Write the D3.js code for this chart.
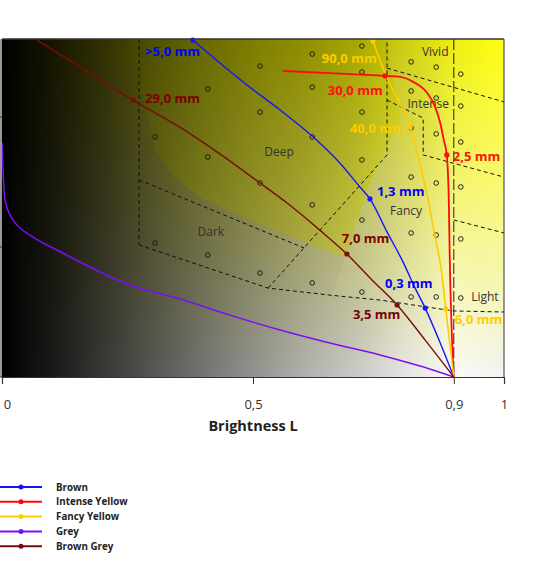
<!DOCTYPE html>
<html><head><meta charset="utf-8">
<script src="https://cdn.jsdelivr.net/npm/d3@7"></script>
<style>body{margin:0;background:#fff}text{font-family:"Open Sans",sans-serif}</style>
</head><body><svg id="c" width="548" height="580"></svg>
<script>
// ---------- data (L = brightness, C = chroma) ----------
const xTicks = [0, 0.5, 0.9, 1];
const xTickLabels = ["0", "0,5", "0,9", "1"];
const yTicks = [0, 0.5, 1.0];
const xTitle = "Brightness L";
const seriesNames = ["Brown", "Intense Yellow", "Fancy Yellow", "Grey", "Brown Grey"];

const brown = [[0.380,1.296],[0.488,1.123],[0.554,1.027],[0.620,0.923],[0.673,0.823],[0.713,0.731],[0.733,0.685],[0.767,0.558],[0.799,0.442],[0.823,0.342],[0.843,0.265],[0.873,0.131],[0.9,0]];
const intenseYellow = [[0.560,1.177],[0.653,1.169],[0.763,1.158],[0.793,1.154],[0.819,1.135],[0.847,1.092],[0.863,1.038],[0.873,0.977],[0.880,0.912],[0.886,0.854],[0.890,0.681],[0.892,0.45],[0.896,0.169],[0.9,0]];
const fancyYellow = [[0.739,1.292],[0.763,1.169],[0.789,1.065],[0.813,0.962],[0.833,0.815],[0.849,0.681],[0.861,0.554],[0.875,0.412],[0.884,0.262],[0.9,0]];
const grey = [[0,0.9],[0.002,0.796],[0.006,0.681],[0.022,0.604],[0.036,0.573],[0.062,0.538],[0.129,0.469],[0.195,0.404],[0.261,0.35],[0.355,0.3],[0.454,0.238],[0.554,0.181],[0.653,0.131],[0.753,0.085],[0.833,0.042],[0.9,0]];
const brownGrey = [[0.070,1.296],[0.165,1.181],[0.261,1.065],[0.355,0.960],[0.434,0.858],[0.514,0.746],[0.568,0.669],[0.633,0.565],[0.687,0.473],[0.737,0.373],[0.787,0.277],[0.843,0.142],[0.9,0]];

// marked sizes on the curves: [L, C, label]
const brownMarks = [[0.380,1.296,">5,0 mm"],[0.733,0.685,"1,3 mm"],[0.843,0.265,"0,3 mm"]];
const intenseMarks = [[0.763,1.158,"30,0 mm"],[0.886,0.854,"2,5 mm"]];
const fancyMarks = [[0.739,1.292,"90,0 mm"],[0.813,0.962,"40,0 mm"],[0.884,0.262,"6,0 mm"]];
const greyMarks = [];
const brownGreyMarks = [[0.261,1.065,"29,0 mm"],[0.687,0.473,"7,0 mm"],[0.787,0.277,"3,5 mm"]];
// where the size labels sit (L, C of text start / baseline)
const brownLabelAt = [[0.285,1.235],[0.747,0.696],[0.763,0.342]];
const intenseLabelAt = [[0.649,1.085],[0.898,0.831]];
const fancyLabelAt = [[0.637,1.208],[0.693,0.938],[0.902,0.204]];
const brownGreyLabelAt = [[0.285,1.054],[0.677,0.515],[0.699,0.223]];

// colour-grade regions
const regionNames = ["Vivid", "Intense", "Deep", "Dark", "Fancy", "Light"];
const regionLabelAt = [[0.863,1.25],[0.849,1.05],[0.552,0.865],[0.416,0.558],[0.805,0.638],[0.962,0.308]];
const boundaryA = [[0.273,1.3],[0.273,0.508]];
const boundaryB = [[0.273,0.758],[0.602,0.496]];
const boundaryC = [[0.273,0.508],[0.530,0.342],[0.653,0.315],[0.753,0.296],[0.847,0.269],[0.9,0.254],[1.0,0.25]];
const boundaryD = [[0.530,0.342],[0.767,0.854],[0.767,1.3]];
const boundaryF = [[0.767,1.188],[1.0,1.058]];
const boundaryG = [[0.767,1.065],[0.839,0.996],[0.839,0.854],[1.0,0.769]];
const boundaryH = [[0.9,0.604],[1.0,0.554]];
const boundaryL09 = [[0.9,1.3],[0.9,0]];

// sample grid
const gridL = [0.305, 0.410, 0.514, 0.618, 0.717, 0.815, 0.865, 0.914];
const gridC = [
  [0.923, 0.515],
  [1.108, 0.846, 0.469],
  [1.196, 1.019, 0.746, 0.4],
  [1.242, 1.115, 0.923, 0.662, 0.362],
  [1.273, 1.173, 1.019, 0.835, 0.604, 0.327],
  [1.212, 1.1, 0.958, 0.769, 0.554, 0.308],
  [1.192, 1.073, 0.935, 0.746, 0.546, 0.308],
  [1.165, 1.042, 0.904, 0.731, 0.531, 0.304]
];

// background tone regions
const saturatedZone = [[0.255,1.3],[0.271,1.142],[0.285,1.038],[0.305,0.873],[0.339,0.777],[0.394,0.692],[0.474,0.623],[0.554,0.558],[0.633,0.496],[0.687,0.458],[0.833,0.392],[1.0,0.335],[1.0,1.3]];
const paleZone = [[0.765,1.3],[0.793,0.988],[0.737,0.765],[0.679,0.438],[0.659,0.315],[0.753,0.296],[0.847,0.269],[0.9,0.254],[1.0,0.25],[1.0,1.3]];
const toneL = [0, 0.1, 0.2, 0.3, 0.4, 0.5, 0.6, 0.7, 0.8, 0.9, 1.0];
const bottomTone = [0, 25, 55, 85, 115, 145, 175, 200, 228, 250, 242];
const topTone = [0, 22, 48, 80, 105, 125, 142, 165, 200, 237, 255];

// ---------- drawing ----------
const svg = d3.select("#c");
const x = d3.scaleLinear().domain([0, 1]).range([2, 504]);
const y = d3.scaleLinear().domain([0, 1.3]).range([377, 39]);
const P = ([l, c]) => [x(l), y(c)];
const x0 = x(0), y0 = y(1.3), pw = x(1) - x(0), ph = y(0) - y(1.3);

svg.append("defs").append("clipPath").attr("id", "clip").append("rect")
  .attr("x", x0).attr("y", y0).attr("width", pw).attr("height", ph);

// background colour field (brightness × saturation), painted once into an image
const W = Math.round(pw), H = Math.round(ph);
const cv = document.createElement("canvas"); cv.width = W; cv.height = H;
const ctx = cv.getContext("2d"); const img = ctx.createImageData(W, H);
const satPoly = saturatedZone.map(P), palePoly = paleZone.map(P);
const topI = d3.scaleLinear(toneL, topTone).clamp(true);
const botI = d3.scaleLinear(toneL, bottomTone).clamp(true);
for (let j = 0; j < H; j++) {
  const py = y0 + j + 0.5, t = (j + 0.5) / H;
  for (let i = 0; i < W; i++) {
    const px = x0 + i + 0.5, L = x.invert(px);
    const tp = topI(L), bt = botI(L);
    const inPale = d3.polygonContains(palePoly, [px, py]);
    const inSat = d3.polygonContains(satPoly, [px, py]);
    let w = t;
    if (inSat && !inPale) w = t * 0.6;
    let r = tp * (1 - w) + bt * w, b = bt * w;
    if (inSat && !inPale) r += 25 * t;
    if (inPale) { r = r * 0.92 + 20; b = b * 0.92 + 16; }
    const k = (j * W + i) * 4;
    img.data[k] = Math.min(255, r); img.data[k + 1] = Math.min(255, r); img.data[k + 2] = Math.min(255, b); img.data[k + 3] = 255;
  }
}
ctx.putImageData(img, 0, 0);

const plot = svg.append("g").attr("clip-path", "url(#clip)");
plot.append("image").attr("x", x0).attr("y", y0).attr("width", pw).attr("height", ph)
  .attr("preserveAspectRatio", "none").attr("href", cv.toDataURL());

// boundaries
const lin = d3.line().x(d => x(d[0])).y(d => y(d[1]));
[boundaryA, boundaryB, boundaryC, boundaryD, boundaryF, boundaryG, boundaryH].forEach(b =>
  plot.append("path").attr("d", lin(b)).attr("fill", "none").attr("stroke", "#111").attr("stroke-width", 1).attr("stroke-dasharray", "4,3"));
plot.append("path").attr("d", lin(boundaryL09)).attr("fill", "none").attr("stroke", "#222").attr("stroke-width", 1).attr("stroke-dasharray", "11,3");

// grid circles
gridL.forEach((l, i) => gridC[i].forEach(c =>
  plot.append("circle").attr("cx", x(l)).attr("cy", y(c)).attr("r", 2.3).attr("fill", "none").attr("stroke", "#111").attr("stroke-width", 0.9)));

// region labels
regionNames.forEach((t, i) =>
  plot.append("text").attr("x", x(regionLabelAt[i][0])).attr("y", y(regionLabelAt[i][1]) + 4)
    .attr("text-anchor", "middle").attr("font-size", 12).attr("fill", "#333").text(t));

// curves
const colors = ["#1414ff", "#ff0a0a", "#ffcc00", "#7a10f0", "#780c0c"];
const labelColors = ["#0000ff", "#ff1010", "#ffcc00", "#7a10f0", "#7a0000"];
const widths = [1.4, 1.8, 1.6, 1.5, 1.4];
const allSeries = [brown, intenseYellow, fancyYellow, grey, brownGrey];
const allMarks = [brownMarks, intenseMarks, fancyMarks, greyMarks, brownGreyMarks];
const allLabelAt = [brownLabelAt, intenseLabelAt, fancyLabelAt, [], brownGreyLabelAt];
const curve = d3.line().x(d => x(d[0])).y(d => y(d[1])).curve(d3.curveMonotoneX);
allSeries.forEach((s, i) => {
  plot.append("path").attr("d", curve(s)).attr("fill", "none").attr("stroke", colors[i]).attr("stroke-width", widths[i]);
});
allSeries.forEach((s, i) => {
  allMarks[i].forEach((m, j) => {
    svg.append("circle").attr("cx", x(m[0])).attr("cy", y(m[1])).attr("r", 2.6).attr("fill", colors[i]);
    const at = allLabelAt[i][j];
    svg.append("text").attr("x", x(at[0])).attr("y", y(at[1])).attr("font-size", 13).attr("font-weight", "bold")
      .attr("fill", labelColors[i]).text(m[2]);
  });
});

// frame
svg.append("line").attr("x1", x(0)).attr("x2", x(1)).attr("y1", y(1.3)).attr("y2", y(1.3)).attr("stroke", "#333").attr("stroke-width", 1.5);
svg.append("line").attr("x1", x(1)).attr("x2", x(1)).attr("y1", y(1.3)).attr("y2", y(0)).attr("stroke", "#333").attr("stroke-width", 1);
svg.append("line").attr("x1", x(0) - 1).attr("x2", x(0) - 1).attr("y1", y(1.3)).attr("y2", y(0)).attr("stroke", "#333").attr("stroke-width", 1);
yTicks.forEach(t => svg.append("line").attr("x1", x(0) - 6).attr("x2", x(0)).attr("y1", y(t)).attr("y2", y(t)).attr("stroke", "#333"));

// x axis
const xa = svg.append("g").attr("transform", `translate(0,${y(0)})`)
  .call(d3.axisBottom(x).tickValues(xTicks).tickSize(7).tickFormat((d, i) => xTickLabels[i]));
xa.select(".domain").attr("stroke", "#333").attr("stroke-width", 1.2);
xa.selectAll(".tick line").attr("stroke", "#333");
xa.selectAll(".tick text").attr("font-family", "Open Sans, sans-serif").attr("font-size", 13).attr("fill", "#333").attr("dy", "1.7em");
xa.selectAll(".tick text").filter((d, i) => i === 0).attr("dx", 5);
svg.append("text").attr("x", x(0.5)).attr("y", 431).attr("text-anchor", "middle").attr("font-size", 14.5)
  .attr("font-weight", "bold").attr("fill", "#222").text(xTitle);

// legend
seriesNames.forEach((n, i) => {
  const ly = 487 + i * 14.8;
  const g = svg.append("g");
  g.append("line").attr("x1", 0).attr("x2", 42).attr("y1", ly).attr("y2", ly).attr("stroke", colors[i]).attr("stroke-width", 2);
  g.append("circle").attr("cx", 21).attr("cy", ly).attr("r", 2.5).attr("fill", colors[i]);
  g.append("text").attr("x", 56).attr("y", ly + 3.5).attr("font-size", 9.8).attr("font-weight", "bold").attr("fill", "#222").text(n);
});
</script></body></html>
